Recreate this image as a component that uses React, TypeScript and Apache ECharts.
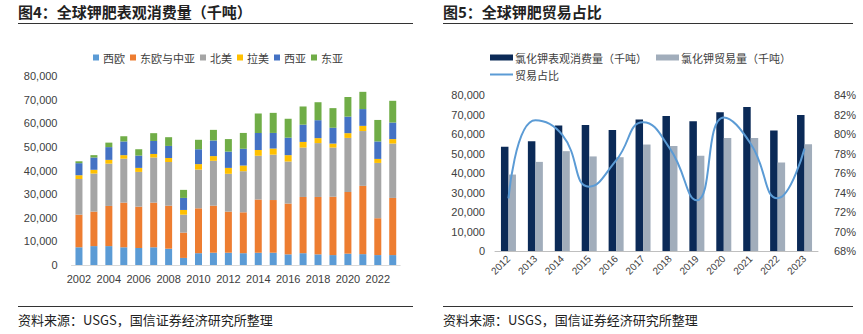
import React, { useEffect, useRef } from 'react';
import * as echarts from 'echarts';

// ---------- Figure 4 data (thousand tonnes) ----------
const years4 = ['2002','2003','2004','2005','2006','2007','2008','2009','2010','2011','2012','2013','2014','2015','2016','2017','2018','2019','2020','2021','2022','2023'];
const westEurope = [7500, 8000, 8000, 7500, 7200, 7500, 6900, 3000, 5000, 5200, 5200, 5000, 5200, 5200, 4500, 5000, 4500, 4200, 4800, 4600, 4200, 4200];
const eastEuropeCA = [13800, 14600, 17000, 18900, 17500, 18900, 18200, 10700, 19000, 19900, 17400, 17300, 22500, 22300, 21500, 23800, 24300, 24700, 26100, 28900, 15600, 24200];
const northAmerica = [15100, 16100, 17900, 18600, 14700, 19100, 18500, 7600, 16400, 19000, 16000, 17400, 18500, 19200, 17800, 20900, 22800, 20800, 22900, 23200, 23400, 23000];
const latinAmerica = [1600, 1600, 1600, 1500, 1700, 1500, 1700, 2000, 2300, 2000, 2500, 2400, 2500, 2600, 2700, 2400, 2100, 1700, 2000, 2200, 1700, 1900];
const westAsia = [5100, 5200, 5400, 5800, 5200, 5500, 5100, 5100, 6300, 6600, 6900, 7100, 7200, 6600, 7400, 7300, 7600, 6700, 7000, 7100, 7400, 7000];
const eastAsia = [800, 1000, 1900, 2200, 2700, 3300, 3700, 3400, 4000, 4500, 5300, 6700, 8200, 8500, 8000, 7700, 7600, 8300, 8300, 7300, 9100, 9200];
const regionNames = ['西欧', '东欧与中亚', '北美', '拉美', '西亚', '东亚'];

// ---------- Figure 5 data ----------
const years5 = ['2012','2013','2014','2015','2016','2017','2018','2019','2020','2021','2022','2023'];
const kclConsumption = [53400, 56300, 64400, 64600, 62000, 67500, 69200, 66600, 71200, 73800, 61800, 69700];
const kclTrade = [39200, 45700, 51200, 48500, 48100, 54600, 53900, 48800, 58000, 58000, 45400, 54800];
const tradeShare = [73.4, 81.4, 79.9, 74.6, 77.3, 81.2, 78.5, 73.2, 81.7, 79.0, 73.4, 78.5];
const series5Names = ['氯化钾表观消费量（千吨）', '氯化钾贸易量（千吨）', '贸易占比'];

const title4 = '图4：全球钾肥表观消费量（千吨）';
const title5 = '图5：全球钾肥贸易占比';
const sourceText = '资料来源：USGS，国信证券经济研究所整理';

const regionColors = ['#5B9BD5', '#ED7D31', '#A5A5A5', '#FFC000', '#4472C4', '#70AD47'];
const FONT = '"Liberation Sans", "Noto Sans CJK SC", sans-serif';
const CJK = '"Noto Sans CJK SC", sans-serif';

const fmt = (v: number) => v.toLocaleString('en-US');

export default function App() {
  const ref = useRef<HTMLDivElement>(null);
  useEffect(() => {
    if (!ref.current) return;
    const chart = echarts.init(ref.current, undefined, { renderer: 'svg' });
    const regionData = [westEurope, eastEuropeCA, northAmerica, latinAmerica, westAsia, eastAsia];
    const axisLabel = { color: '#404040', fontSize: 11, fontFamily: FONT };
    chart.setOption({
      animation: false,
      backgroundColor: '#ffffff',
      textStyle: { fontFamily: FONT },
      grid: [
        { left: 71.5, top: 76, width: 328.7, height: 189 },
        { left: 495, top: 95, width: 323, height: 156 },
      ],
      legend: [
        {
          data: regionNames,
          left: 88, top: 47,
          itemWidth: 6, itemHeight: 6, itemGap: 5,
          icon: 'rect',
          textStyle: { fontSize: 11, color: '#404040', fontFamily: CJK, padding: [0, 0, 0, -1] },
        },
        {
          data: [series5Names[0], series5Names[1]],
          left: 485, top: 47,
          itemWidth: 23, itemHeight: 6, itemGap: 9,
          icon: 'rect',
          textStyle: { fontSize: 11, color: '#404040', fontFamily: CJK, padding: [0, 0, 0, -3] },
        },
        {
          data: [series5Names[2]],
          left: 485, top: 64,
          itemWidth: 23, itemHeight: 2,
          icon: 'rect',
          textStyle: { fontSize: 11, color: '#404040', fontFamily: CJK, padding: [0, 0, 0, -3] },
        },
      ],
      xAxis: [
        {
          type: 'category', gridIndex: 0, data: years4,
          axisLine: { lineStyle: { color: '#D9D9D9' } },
          axisTick: { show: false },
          axisLabel: { ...axisLabel, interval: 1, margin: 8 },
        },
        {
          type: 'category', gridIndex: 1, data: years5,
          axisLine: { lineStyle: { color: '#BFBFBF' } },
          axisTick: { show: false },
          axisLabel: { ...axisLabel, fontSize: 10, rotate: 45, margin: 6, interval: 0 },
        },
      ],
      yAxis: [
        {
          type: 'value', gridIndex: 0, min: 0, max: 80000, interval: 10000,
          axisLine: { show: false }, axisTick: { show: false },
          splitLine: { show: false },
          axisLabel: { ...axisLabel, margin: 14, formatter: (v: number) => fmt(v) },
        },
        {
          type: 'value', gridIndex: 1, min: 0, max: 80000, interval: 10000,
          axisLine: { show: false }, axisTick: { show: false },
          splitLine: { show: false },
          axisLabel: { ...axisLabel, margin: 10, formatter: (v: number) => fmt(v) },
        },
        {
          type: 'value', gridIndex: 1, min: 68, max: 84, interval: 2, position: 'right',
          axisLine: { show: false }, axisTick: { show: false },
          splitLine: { show: false },
          axisLabel: { ...axisLabel, margin: 16, formatter: '{value}%' },
        },
      ],
      series: [
        ...regionNames.map((name, i) => ({
          name, type: 'bar', stack: 'total', xAxisIndex: 0, yAxisIndex: 0,
          barWidth: 7, data: regionData[i],
          itemStyle: { color: regionColors[i] },
        })),
        {
          name: series5Names[0], type: 'bar', xAxisIndex: 1, yAxisIndex: 1,
          barWidth: 7.5, barGap: '0%', data: kclConsumption,
          itemStyle: { color: '#0B2A57' },
        },
        {
          name: series5Names[1], type: 'bar', xAxisIndex: 1, yAxisIndex: 1,
          barWidth: 7.5, barGap: '0%', data: kclTrade,
          itemStyle: { color: '#A1ADBB' },
        },
        {
          name: series5Names[2], type: 'line', xAxisIndex: 1, yAxisIndex: 2,
          data: tradeShare, smooth: 0.5, symbol: 'none',
          lineStyle: { color: '#5B9BD5', width: 2 },
          itemStyle: { color: '#5B9BD5' },
          z: 5,
        },
      ],
      graphic: [
        { type: 'text', left: 18, top: 4, style: { text: title4, fontSize: 15, fontWeight: 'bold', fill: '#222', fontFamily: CJK } },
        { type: 'text', left: 443, top: 4, style: { text: title5, fontSize: 15, fontWeight: 'bold', fill: '#222', fontFamily: CJK } },
        { type: 'line', shape: { x1: 18, y1: 23.5, x2: 413, y2: 23.5 }, style: { stroke: '#333', lineWidth: 1 } },
        { type: 'line', shape: { x1: 443, y1: 23.5, x2: 853, y2: 23.5 }, style: { stroke: '#333', lineWidth: 1 } },
        { type: 'line', shape: { x1: 18, y1: 306.5, x2: 413, y2: 306.5 }, style: { stroke: '#333', lineWidth: 1 } },
        { type: 'line', shape: { x1: 443, y1: 306.5, x2: 853, y2: 306.5 }, style: { stroke: '#333', lineWidth: 1 } },
        { type: 'text', left: 18, top: 313, style: { text: sourceText, fontSize: 13, fill: '#222', fontFamily: CJK } },
        { type: 'text', left: 443, top: 313, style: { text: sourceText, fontSize: 13, fill: '#222', fontFamily: CJK } },
      ],
    });
    return () => chart.dispose();
  }, []);
  return (
    <div
      ref={ref}
      style={{ position: 'absolute', left: 0, top: 0, width: 863, height: 334, background: '#fff' }}
    />
  );
}
